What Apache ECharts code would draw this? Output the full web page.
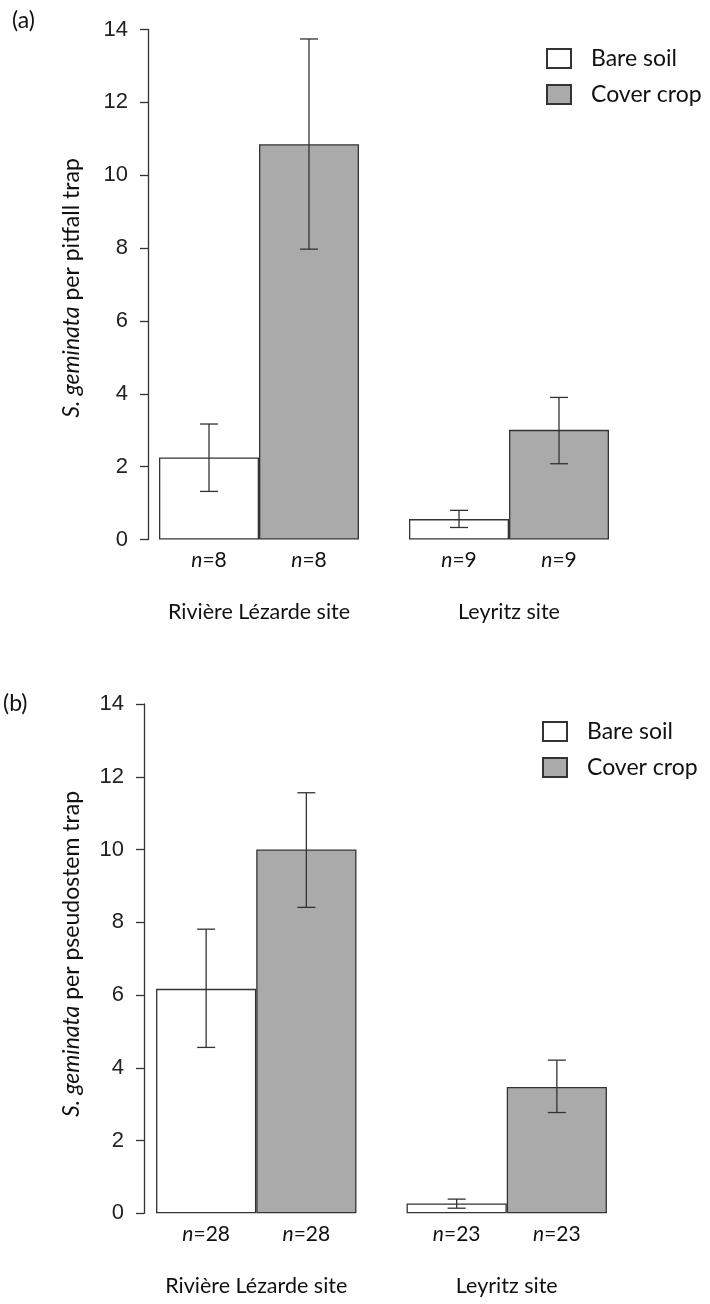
<!DOCTYPE html>
<html>
<head>
<meta charset="utf-8">
<script src="https://cdn.jsdelivr.net/npm/echarts@6/dist/echarts.min.js"></script>
<style>html,body{margin:0;padding:0;background:#fff;}#c{width:710px;height:1304px;}</style>
</head>
<body>
<div id="c"></div>
<script>
// ---- data ----
const sites = ['Rivière Lézarde site', 'Leyritz site'];
const yTicks = [0, 2, 4, 6, 8, 10, 12, 14];
// panel (a): pitfall traps
const bareA = [2.25, 0.56];
const coverA = [10.85, 3.01];
const bareA_lo = [1.32, 0.33];
const bareA_hi = [3.17, 0.80];
const coverA_lo = [7.97, 2.08];
const coverA_hi = [13.74, 3.90];
const nA = [8, 9];
// panel (b): pseudostem traps
const bareB = [6.17, 0.27];
const coverB = [10.0, 3.47];
const bareB_lo = [4.56, 0.14];
const bareB_hi = [7.81, 0.39];
const coverB_lo = [8.41, 2.77];
const coverB_hi = [11.56, 4.21];
const nB = [28, 23];

const INK = '#333';
const GRAY = '#aaaaaa';
const CAL = 'Lato';

function errSeries(idx, lo, hi, side) {
  return {
    type: 'custom', xAxisIndex: idx, yAxisIndex: idx, z: 5, silent: true,
    data: lo.map((v, i) => [i, v, hi[i]]),
    encode: { x: 0, y: [1, 2] },
    renderItem: function (params, api) {
      const c = api.value(0);
      const p1 = api.coord([c, api.value(1)]);
      const p2 = api.coord([c, api.value(2)]);
      const bw = api.size([1, 0])[0] * 0.8 / 2;
      const x = p1[0] + side * bw / 2;
      const cap = 9;
      const st = { stroke: INK, lineWidth: 1.3 };
      return { type: 'group', children: [
        { type: 'line', shape: { x1: x, y1: p1[1], x2: x, y2: p2[1] }, style: st },
        { type: 'line', shape: { x1: x - cap, y1: p1[1], x2: x + cap, y2: p1[1] }, style: st },
        { type: 'line', shape: { x1: x - cap, y1: p2[1], x2: x + cap, y2: p2[1] }, style: st }
      ]};
    }
  };
}

function barSeries(idx, name, vals, ns, color) {
  return {
    type: 'bar', name: name, xAxisIndex: idx, yAxisIndex: idx,
    data: vals, barGap: '0%', barCategoryGap: '20%',
    itemStyle: { color: color, borderColor: INK, borderWidth: 1.3 },
    label: {
      show: true, position: 'bottom', distance: 10,
      formatter: function (p) { return '{i|n}{r|=' + ns[p.dataIndex] + '}'; },
      rich: {
        i: { fontFamily: CAL, fontSize: 21, fontStyle: 'italic', color: '#111' },
        r: { fontFamily: CAL, fontSize: 21, color: '#111' }
      }
    }
  };
}

function yAxisDef(idx, offset) {
  return {
    type: 'value', gridIndex: idx, min: yTicks[0], max: yTicks[yTicks.length - 1], interval: 2,
    offset: offset,
    splitLine: { show: false },
    axisLine: { show: true, lineStyle: { color: INK, width: 1.3 } },
    axisTick: { show: true, length: 8, lineStyle: { color: INK, width: 1.3 } },
    axisLabel: { fontFamily: 'Liberation Sans', fontSize: 22, color: '#222', margin: 20 }
  };
}

function xAxisDef(idx) {
  return {
    type: 'category', gridIndex: idx, data: sites,
    axisLine: { show: false }, axisTick: { show: false },
    axisLabel: { fontFamily: CAL, fontSize: 21.5, color: '#111', margin: 62 }
  };
}

function legendDef(left, top) {
  return {
    orient: 'vertical', left: left, top: top, icon: 'rect', padding: 0,
    itemWidth: 24, itemHeight: 19, itemGap: 13, selectedMode: false,
    textStyle: { fontFamily: CAL, fontSize: 23, color: '#111', padding: [0, 0, 0, 15], lineHeight: 20 },
    data: ['Bare soil', 'Cover crop']
  };
}

function yTitle(x, y, what) {
  return {
    type: 'text', x: x, y: y, rotation: Math.PI / 2,
    style: {
      text: '{i|S. geminata} per ' + what,
      align: 'center', verticalAlign: 'middle',
      fontFamily: CAL, fontSize: 23, fill: '#111',
      rich: { i: { fontFamily: CAL, fontSize: 23, fontStyle: 'italic', fill: '#111' } }
    }
  };
}

const chart = echarts.init(document.getElementById('c'), null, { renderer: 'canvas' });
chart.setOption({
  animation: false,
  backgroundColor: '#fff',
  grid: [
    { left: 134, top: 29.5, width: 500, height: 510 },
    { left: 131, top: 704, width: 501, height: 509.3 }
  ],
  xAxis: [xAxisDef(0), xAxisDef(1)],
  yAxis: [yAxisDef(0, -14), yAxisDef(1, -13)],
  legend: [legendDef(546, 47), legendDef(542, 720)],
  graphic: [
    { type: 'text', left: 12, top: 9, style: { text: '(a)', fontFamily: CAL, fontSize: 23, fill: '#111' } },
    { type: 'text', left: 3, top: 692, style: { text: '(b)', fontFamily: CAL, fontSize: 23, fill: '#111' } },
    yTitle(72, 288, 'pitfall trap'),
    yTitle(72, 954, 'pseudostem trap')
  ],
  series: [
    barSeries(0, 'Bare soil', bareA, nA, '#ffffff'),
    barSeries(0, 'Cover crop', coverA, nA, GRAY),
    errSeries(0, bareA_lo, bareA_hi, -1),
    errSeries(0, coverA_lo, coverA_hi, 1),
    barSeries(1, 'Bare soil', bareB, nB, '#ffffff'),
    barSeries(1, 'Cover crop', coverB, nB, GRAY),
    errSeries(1, bareB_lo, bareB_hi, -1),
    errSeries(1, coverB_lo, coverB_hi, 1)
  ]
});
</script>
</body>
</html>
